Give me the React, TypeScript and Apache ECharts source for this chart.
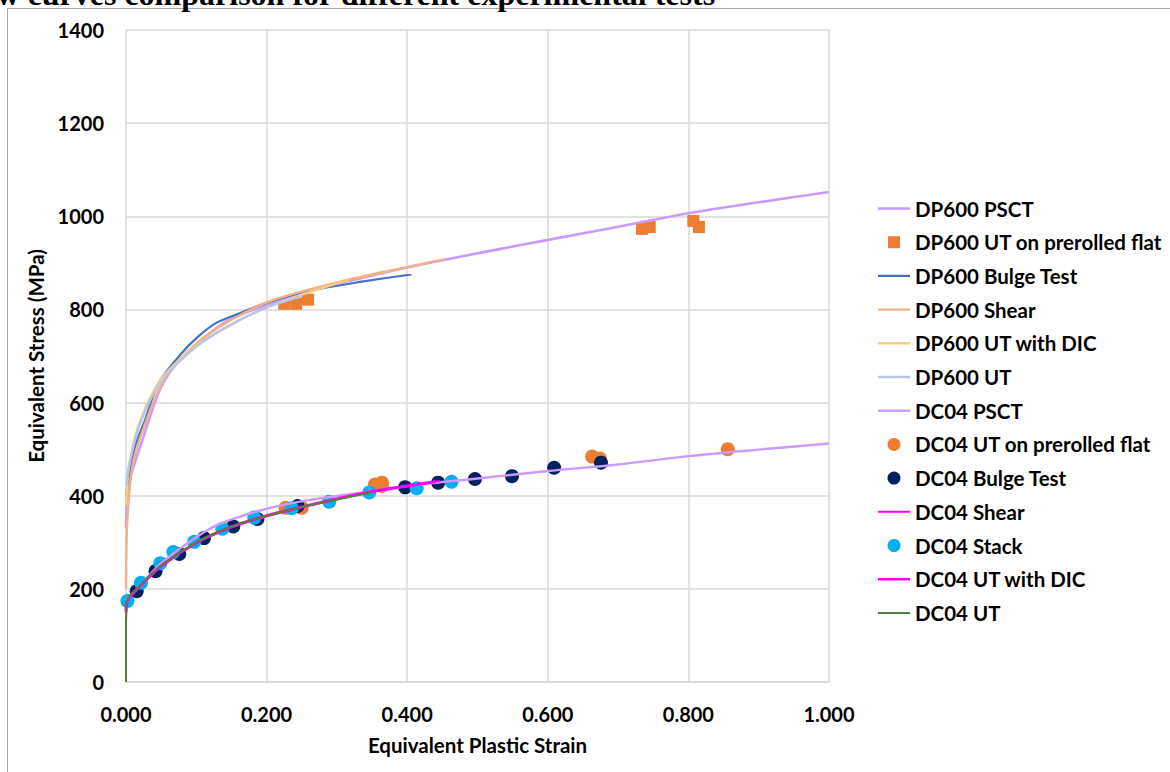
import React, { useEffect, useRef } from "react";
import * as echarts from "echarts";

const titleText = "Flow curves comparison for different experimental tests";
const xTicks = [0, 0.2, 0.4, 0.6, 0.8, 1.0];
const yTicks = [0, 200, 400, 600, 800, 1000, 1200, 1400];

const dp600Pscts: [number, number][] = [
  [0.0, 330], [0.003, 420], [0.0125, 470], [0.025, 527], [0.048, 627], [0.072, 684], [0.1, 722],
  [0.119, 749], [0.15, 780], [0.2, 809], [0.25, 833], [0.2855, 849], [0.35, 873], [0.4, 890],
  [0.475, 913], [0.55, 935], [0.674, 970], [0.802, 1007], [0.9, 1030], [1.0, 1052],
];
const dp600Prerolled: [number, number][] = [
  [0.225, 812], [0.242, 812], [0.259, 821], [0.734, 973], [0.745, 977], [0.807, 990], [0.815, 977],
];
const dp600Bulge: [number, number][] = [
  [0.0, 398], [0.0033, 434], [0.0128, 505], [0.027, 562], [0.046, 641], [0.079, 706], [0.1, 738],
  [0.127, 770], [0.167, 795], [0.2, 814], [0.262, 840], [0.333, 859], [0.406, 875],
];
const dp600Shear: [number, number][] = [
  [0.0, 200], [0.002, 350], [0.01, 470], [0.025, 545], [0.05, 638], [0.08, 698], [0.12, 750],
  [0.2, 815], [0.3, 858], [0.4, 891], [0.454, 908],
];
const dp600UtDic: [number, number][] = [
  [0.0, 380], [0.005, 470], [0.02, 560], [0.05, 650], [0.1, 722], [0.15, 768], [0.2, 804],
  [0.25, 832], [0.316, 863],
];
const dp600Ut: [number, number][] = [
  [0.0, 420], [0.005, 470], [0.02, 555], [0.05, 645], [0.1, 720], [0.15, 768], [0.2, 804], [0.25, 828],
];
const dc04Psct: [number, number][] = [
  [0.0, 175], [0.01, 190], [0.05, 255], [0.1, 311], [0.134, 340], [0.2, 372], [0.262, 391],
  [0.347, 409], [0.4, 421], [0.5, 437], [0.6, 453], [0.693, 466], [0.8, 485], [0.9, 499], [1.0, 512],
];
const dc04Prerolled: [number, number][] = [
  [0.227, 374], [0.25, 374], [0.354, 424], [0.364, 428], [0.364, 421], [0.663, 484], [0.674, 480], [0.856, 500],
];
const dc04Bulge: [number, number][] = [
  [0.0152, 195], [0.042, 238], [0.0758, 275], [0.111, 309], [0.1526, 334], [0.187, 350], [0.244, 378],
  [0.397, 418], [0.444, 428], [0.4964, 436], [0.549, 442], [0.609, 460], [0.6757, 471],
];
const dc04Shear: [number, number][] = [
  [0.0, 80], [0.001, 170], [0.02, 205], [0.05, 248], [0.1, 298], [0.15, 332], [0.2, 356],
  [0.25, 375], [0.3, 392], [0.35, 408], [0.4, 421], [0.447, 432],
];
const dc04Stack: [number, number][] = [
  [0.002, 174], [0.0213, 213], [0.0488, 255], [0.0673, 279], [0.097, 301], [0.137, 329], [0.1825, 353],
  [0.2357, 373], [0.289, 387], [0.346, 407], [0.4135, 416], [0.463, 430],
];
const dc04UtDic: [number, number][] = [
  [0.0, 150], [0.002, 175], [0.02, 206], [0.05, 249], [0.1, 299], [0.15, 333], [0.2, 357],
  [0.25, 376], [0.3, 393], [0.35, 409], [0.4, 421], [0.44, 430],
];
const dc04Ut: [number, number][] = [
  [0.0, 0], [0.0, 120], [0.001, 172], [0.02, 207], [0.05, 250], [0.1, 300], [0.15, 334],
  [0.2, 357], [0.25, 376], [0.3, 392], [0.35, 407],
];

const FONT = "Lato";
const BOX = "M0,0h0.01v0.01h-0.01z M31.99,12.99h0.01v0.01h-0.01z";
const lineIcon = (w: number) =>
  "path://" + BOX + ` M0,${(6.5 - w / 2).toFixed(2)}h32v${w}h-32z`;
const squareIcon = "path://" + BOX + " M10,0.5h12v12h-12z";

function lineSeries(name: string, data: [number, number][], color: string, width = 2) {
  return {
    name,
    type: "line",
    data,
    smooth: 0.3,
    symbol: "none",
    showSymbol: false,
    lineStyle: { color, width },
    itemStyle: { color },
    _icon: lineIcon(Math.min(2.5, Math.max(2, width))),
  };
}

function scatterSeries(name: string, data: [number, number][], color: string, symbol: string, size: number) {
  return {
    name,
    type: "scatter",
    data,
    symbol,
    symbolSize: size,
    itemStyle: { color, opacity: 1 },
    _icon: symbol === "rect" ? squareIcon : "circle",
  };
}

export default function App() {
  const ref = useRef<HTMLDivElement>(null);
  useEffect(() => {
    if (!ref.current) return;
    const chart = echarts.init(ref.current, undefined, { renderer: "svg" });
    const defs = [
      lineSeries("DP600 PSCT", dp600Pscts, "#cc99ff", 2.6),
      scatterSeries("DP600 UT on prerolled flat", dp600Prerolled, "#ed7d31", "rect", 12),
      lineSeries("DP600 Bulge Test", dp600Bulge, "#4472c4", 2.2),
      lineSeries("DP600 Shear", dp600Shear, "#f4b183", 2.4),
      lineSeries("DP600 UT with DIC", dp600UtDic, "#ffcc80", 2.4),
      lineSeries("DP600 UT", dp600Ut, "#b4c7e7", 2.4),
      lineSeries("DC04 PSCT", dc04Psct, "#cc99ff", 2.4),
      scatterSeries("DC04 UT on prerolled flat", dc04Prerolled, "#ed7d31", "circle", 14),
      scatterSeries("DC04 Bulge Test", dc04Bulge, "#002060", "circle", 14),
      lineSeries("DC04 Shear", dc04Shear, "#ff00ff", 1.8),
      scatterSeries("DC04 Stack", dc04Stack, "#00b0f0", "circle", 14),
      lineSeries("DC04 UT with DIC", dc04UtDic, "#ff00ff", 3),
      lineSeries("DC04 UT", dc04Ut, "#548235", 2),
    ];
    const legendData = defs.map((s) => ({ name: s.name, icon: s._icon }));
    const series = defs.map((s) => {
      const { _icon, ...rest } = s as any;
      return rest;
    });
    chart.setOption({
      animation: false,
      backgroundColor: "#ffffff",
      grid: { left: 126, right: 341, top: 30, bottom: 90 },
      graphic: [
        {
          type: "rect",
          shape: { x: 7.5, y: 8.5, width: 1200, height: 800 },
          style: { fill: "none", stroke: "#a6a6a6", lineWidth: 1 },
          silent: true,
        },
        {
          type: "text",
          x: -48,
          y: 10,
          style: {
            text: titleText,
            font: "bold 32px 'Liberation Serif'",
            fill: "#000",
            verticalAlign: "bottom",
          },
        },
      ],
      legend: {
        orient: "vertical",
        left: 873,
        top: 193,
        itemWidth: 32,
        itemHeight: 13,
        itemGap: 12.7,
        textStyle: { fontFamily: FONT, fontWeight: "bold", fontSize: 20.5, color: "#000", lineHeight: 18 },
        data: legendData,
      },
      xAxis: {
        type: "value",
        min: xTicks[0],
        max: xTicks[xTicks.length - 1],
        interval: 0.2,
        name: "Equivalent Plastic Strain",
        nameLocation: "middle",
        nameGap: 52,
        nameTextStyle: { fontFamily: FONT, fontWeight: "bold", fontSize: 20.5, color: "#000" },
        axisLine: { show: true, lineStyle: { color: "#d9d9d9", width: 1.5 } },
        axisTick: { show: false },
        axisLabel: {
          margin: 22,
          fontFamily: FONT,
          fontWeight: "bold",
          fontSize: 20,
          color: "#000",
          formatter: (v: number) => v.toFixed(3),
        },
        splitLine: { show: true, lineStyle: { color: "#d9d9d9", width: 1.5 } },
      },
      yAxis: {
        type: "value",
        min: yTicks[0],
        max: yTicks[yTicks.length - 1],
        interval: 200,
        name: "Equivalent Stress (MPa)",
        nameLocation: "middle",
        nameGap: 66,
        nameTextStyle: { fontFamily: FONT, fontWeight: "bold", fontSize: 20.5, color: "#000" },
        axisLine: { show: false },
        axisTick: { show: false },
        axisLabel: {
          margin: 22,
          fontFamily: FONT,
          fontWeight: "bold",
          fontSize: 20,
          color: "#000",
          formatter: (v: number) => String(v),
        },
        splitLine: { show: true, lineStyle: { color: "#d9d9d9", width: 1.5 } },
      },
      series,
    });
    return () => chart.dispose();
  }, []);
  return (
    <div
      ref={ref}
      style={{ position: "absolute", left: 0, top: 0, width: 1170, height: 772, background: "#fff" }}
    />
  );
}
